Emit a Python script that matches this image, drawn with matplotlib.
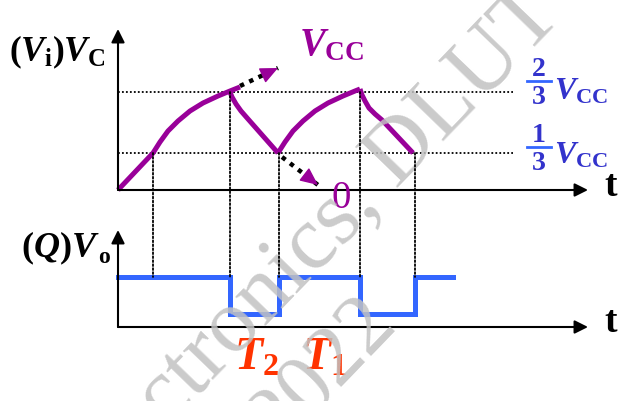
import matplotlib
matplotlib.use('Agg')
from matplotlib import pyplot as plt
from matplotlib.patches import ConnectionPatch

# Data (schematic units: time ~ px from origin, height ~ px above axis)
charge1_t = [0, 35, 42, 50, 60, 72, 85, 100, 112, 122]
charge1_v = [0, 37, 48, 59, 69, 79, 87, 94, 99, 103]
dis1_t = [112, 114, 118, 123, 130, 160]
dis1_v = [98, 93, 86, 79, 71, 37]
charge2_t = [160, 167, 175, 185, 197, 210, 225, 237, 242]
charge2_v = [37, 48, 59, 69, 79, 87, 94, 99, 101]
dis2_t = [242, 244, 247, 251, 257, 264, 295]
dis2_v = [101, 95, 89, 82, 76, 70, 37]

# trend arrows (dotted) towards VCC and 0
arrow_up = [(122, 104), (160, 122)]
arrow_down = [(164, 33), (200, 5)]

level_13 = 37
level_23 = 98

# output waveform (step, post)
out_t = [0, 112, 161, 242, 297, 335]
out_v = [50, 13, 50, 13, 50, 50]

# switching instants and the threshold reached there
mark_t = [35, 112, 161, 242, 297]
mark_v = [level_13, level_23, level_13, level_23, level_13]

purple = '#990099'
blue = '#3366FF'
label_blue = '#3333CC'
red = '#FF3300'

plt.rcParams['mathtext.fontset'] = 'custom'
plt.rcParams['mathtext.rm'] = 'Liberation Serif:bold'
plt.rcParams['mathtext.it'] = 'Liberation Serif:bold:italic'
plt.rcParams['mathtext.bf'] = 'Liberation Serif:bold'

W, H = 631, 401
fig = plt.figure(figsize=(W / 100, H / 100), dpi=100)


def box(x0, y0, w, h):
    # pixel box (top-left origin) -> figure fraction
    return [x0 / W, (H - y0) / H, w / W, h / H]


ax_top = fig.add_axes(box(118, 190, 470, 161))
ax_top.set_xlim(0, 470)
ax_top.set_ylim(0, 161)
ax_bot = fig.add_axes(box(118, 327, 470, 97))
ax_bot.set_xlim(0, 470)
ax_bot.set_ylim(0, 97)
for a in (ax_top, ax_bot):
    a.axis('off')

arrow_kw = dict(arrowstyle='-|>,head_length=0.8,head_width=0.4', color='black',
                lw=1.5, shrinkA=0, shrinkB=0)
for a, ymax in ((ax_top, 161), (ax_bot, 97)):
    a.annotate('', xy=(470, 0), xytext=(0, 0), arrowprops=arrow_kw, annotation_clip=False)
    a.annotate('', xy=(0, ymax), xytext=(0, 0), arrowprops=arrow_kw, annotation_clip=False)

# threshold lines
for lv in (level_13, level_23):
    ax_top.plot([0, 395], [lv, lv], color='black', lw=1.3, ls=(0, (1, 1.2)), clip_on=False)

# vertical dotted connectors
for t, v in zip(mark_t, mark_v):
    con = ConnectionPatch(xyA=(t, v), coordsA=ax_top.transData,
                          xyB=(t, out_v[0]), coordsB=ax_bot.transData,
                          color='black', lw=1.3, ls=(0, (1, 1.2)))
    fig.add_artist(con)

# capacitor voltage
line_kw = dict(color=purple, lw=3.6, solid_capstyle='butt', solid_joinstyle='round', clip_on=False)
for t, v in ((charge1_t, charge1_v), (dis1_t, dis1_v), (charge2_t, charge2_v), (dis2_t, dis2_v)):
    ax_top.plot(t, v, **line_kw)

# dotted trend arrows
for (p0, p1) in (arrow_up, arrow_down):
    ax_top.plot([p0[0], p1[0]], [p0[1], p1[1]], color='black', lw=3.2,
                ls=(0, (1, 1.3)), clip_on=False)
    dx, dy = p1[0] - p0[0], p1[1] - p0[1]
    ax_top.annotate('', xy=p1, xytext=(p1[0] - dx * 0.3, p1[1] - dy * 0.3),
                    arrowprops=dict(arrowstyle='-|>,head_length=1.1,head_width=0.5',
                                    color=purple, lw=1, shrinkA=0, shrinkB=0),
                    annotation_clip=False)

# output
ax_bot.step(out_t, out_v, where='post', color=blue, lw=3.6, clip_on=False,
            solid_joinstyle='miter')

# overlay for text in pixel coords
ov = fig.add_axes([0, 0, 1, 1])
ov.set_xlim(0, W)
ov.set_ylim(H, 0)
ov.axis('off')

ov.text(9, 61, r'$(V_{\rm i})V_{\rm C}$', fontsize=25.5, color='black', va='baseline')
ov.text(21, 257, r'$(Q)V$', fontsize=26, color='black', va='baseline')
ov.text(98, 263, r'$\rm o$', fontsize=17, color='black', va='baseline')
ov.text(299, 55, r'$V_{\rm CC}$', fontsize=28, color=purple, va='baseline')
ov.text(341, 199, '0', fontsize=28, color=purple, family='Liberation Serif',
        ha='center', va='center')

ov.text(611, 187, 't', fontsize=27, fontweight='bold', family='Liberation Serif',
        ha='center', va='center')
ov.text(611, 322, 't', fontsize=27, fontweight='bold', family='Liberation Serif',
        ha='center', va='center')

# fractions
for num, ynum, ybar, yden, yv in (('2', 70, 81, 97, 99), ('1', 136, 147, 163, 164)):
    ov.text(539, ynum, num, fontsize=20, fontweight='bold', family='Liberation Serif',
            color=label_blue, ha='center', va='center')
    ov.plot([527, 551], [ybar, ybar], color=blue, lw=2)
    ov.text(539, yden, '3', fontsize=20, fontweight='bold', family='Liberation Serif',
            color=label_blue, ha='center', va='center')
    ov.text(554, yv, r'$V_{\rm CC}$', fontsize=23, color=label_blue, va='baseline')

ov.text(234, 370, r'$T_{\mathrm{2}}$', fontsize=33, color=red, va='baseline')
ov.text(302, 370, r'$T_{\mathrm{1}}$', fontsize=33, color=red, va='baseline')

# watermark
wm = dict(family='Liberation Serif', color='#c2c2c2', alpha=0.85, rotation=46,
          rotation_mode='anchor', ha='center', va='center', zorder=10)
ov.text(308, 250, 'Electronics, DLUT', fontsize=65, **wm)
ov.text(323, 372, '2022', fontsize=62, **wm)

fig.savefig('out.png', dpi=100)
